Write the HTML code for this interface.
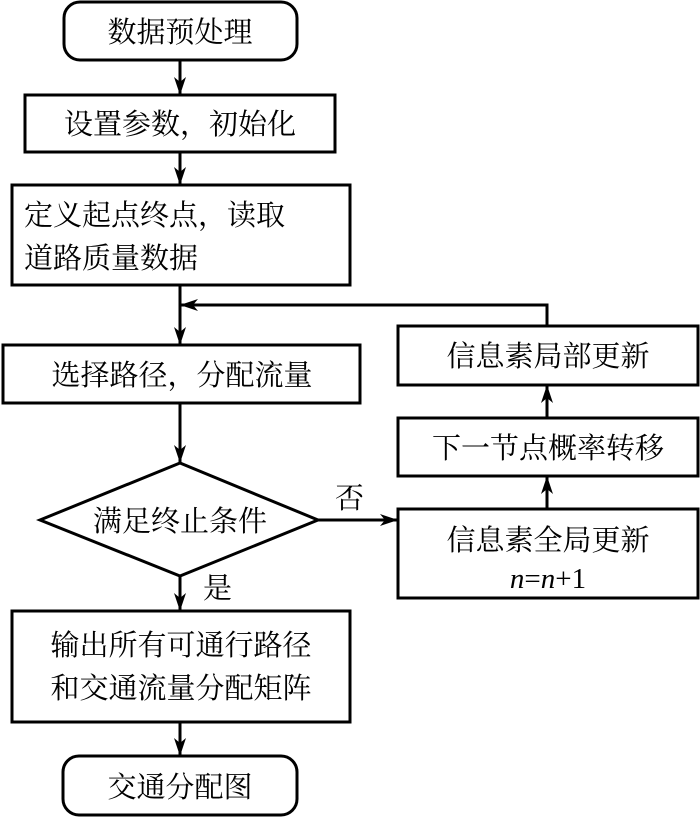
<!DOCTYPE html>
<html><head><meta charset="utf-8"><style>
html,body{margin:0;padding:0;background:#fff}
svg{display:block}
text{font-family:"Liberation Serif","Noto Serif CJK SC","Noto Sans CJK SC",serif;font-size:29px;fill:#000}
</style></head><body>
<svg width="700" height="817" viewBox="0 0 700 817" xmlns="http://www.w3.org/2000/svg">
<defs><marker id="a" markerWidth="10" markerHeight="10" refX="9" refY="5" orient="auto" markerUnits="userSpaceOnUse"><path d="M0,0 L10,5 L0,10 z" fill="#000"/></marker>
<marker id="b" viewBox="0 0 18 12" markerWidth="18" markerHeight="12" refX="18" refY="6" orient="auto" markerUnits="userSpaceOnUse"><path d="M0,0 L18,6 L0,12 L5,6 z" fill="#000"/></marker></defs>
<g fill="none" stroke="#000" stroke-width="3">
<rect x="64" y="2" width="233" height="58" rx="16"/>
<rect x="25" y="95" width="310" height="57"/>
<rect x="12" y="185" width="338" height="100"/>
<rect x="3" y="345" width="357" height="58"/>
<polygon points="40,520 180,463 318,520 180,576"/>
<rect x="12" y="611" width="338" height="111"/>
<rect x="63" y="756" width="234" height="59" rx="16"/>
<rect x="398" y="326" width="300" height="59"/>
<rect x="398" y="418" width="300" height="58"/>
<rect x="398" y="509" width="300" height="89"/>
</g>
<g stroke="#000" stroke-width="3" fill="none" marker-end="url(#b)">
<line x1="180" y1="60" x2="180" y2="95"/>
<line x1="180" y1="152" x2="180" y2="185"/>
<line x1="180" y1="285" x2="180" y2="345"/>
<line x1="180" y1="403" x2="180" y2="463"/>
<line x1="180" y1="576" x2="180" y2="611"/>
<line x1="180" y1="722" x2="180" y2="756"/>
<line x1="318" y1="520" x2="398" y2="520"/>
<line x1="547" y1="509" x2="547" y2="476"/>
<line x1="547" y1="418" x2="547" y2="385"/>
<polyline points="547,326 547,305 180,305"/>
</g>
<text x="180" y="42" text-anchor="middle">数据预处理</text>
<text x="180" y="134" text-anchor="middle">设置参数，初始化</text>
<text x="24" y="225">定义起点终点，读取</text>
<text x="24" y="268">道路质量数据</text>
<text x="182" y="385" text-anchor="middle">选择路径，分配流量</text>
<text x="180" y="531" text-anchor="middle">满足终止条件</text>
<text x="335" y="508">否</text>
<text x="203" y="598">是</text>
<text x="181" y="655" text-anchor="middle">输出所有可通行路径</text>
<text x="181" y="698" text-anchor="middle">和交通流量分配矩阵</text>
<text x="180" y="797" text-anchor="middle">交通分配图</text>
<text x="548" y="366" text-anchor="middle">信息素局部更新</text>
<text x="548" y="458" text-anchor="middle">下一节点概率转移</text>
<text x="548" y="550" text-anchor="middle">信息素全局更新</text>
<text x="548" y="588" text-anchor="middle"><tspan font-style="italic">n</tspan>=<tspan font-style="italic">n</tspan>+1</text>
</svg>
</body></html>
